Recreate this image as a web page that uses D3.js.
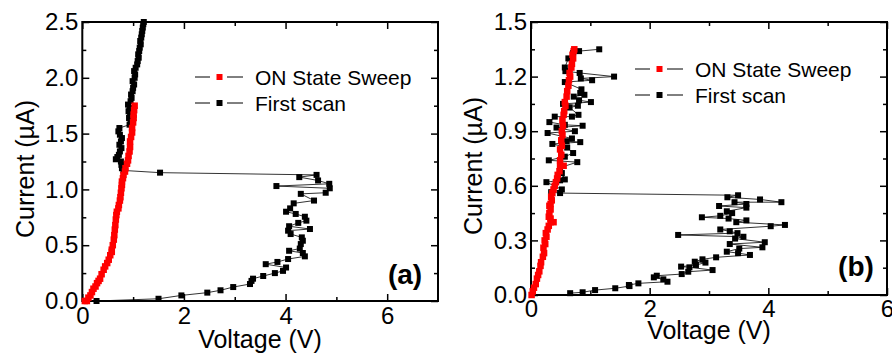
<!DOCTYPE html>
<html>
<head>
<meta charset="utf-8">
<script src="https://cdn.jsdelivr.net/npm/d3@7"></script>
<style>
  body { margin: 0; background: #fff; }
  svg { display: block; }
  text { font-family: "Liberation Sans", Arial, sans-serif; fill: #000; }
</style>
</head>
<body>
<div id="chart"></div>
<script>
// ---- data: [voltage V, current uA] ----
const seriesNames = ["ON State Sweep", "First scan"];

const onSweepA = [
  [0.05,0.00],[0.09,0.00],[0.12,0.03],[0.16,0.05],[0.19,0.08],[0.22,0.11],[0.26,0.13],[0.29,0.16],
  [0.32,0.18],[0.35,0.20],[0.38,0.24],[0.42,0.28],[0.45,0.31],[0.49,0.34],[0.52,0.37],[0.55,0.41],
  [0.58,0.44],[0.58,0.46],[0.60,0.50],[0.62,0.55],[0.63,0.59],[0.64,0.64],[0.65,0.68],[0.66,0.73],
  [0.67,0.77],[0.68,0.80],[0.71,0.83],[0.72,0.86],[0.74,0.90],[0.75,0.93],[0.76,0.97],[0.77,1.01],
  [0.78,1.04],[0.78,1.07],[0.80,1.10],[0.81,1.13],[0.84,1.16],[0.85,1.19],[0.88,1.23],[0.90,1.26],
  [0.91,1.30],[0.93,1.34],[0.94,1.38],[0.94,1.43],[0.96,1.47],[0.98,1.51],[0.98,1.55],[1.00,1.60],
  [1.01,1.64],[1.01,1.67],[1.02,1.71],[1.03,1.75]
];

const firstScanA = [
  [0.28,0.00],[1.50,0.02],[1.95,0.05],[2.46,0.075],[2.72,0.096],[2.97,0.125],[3.30,0.152],[3.33,0.18],
  [3.36,0.20],[3.56,0.224],[3.79,0.25],[3.95,0.27],[4.01,0.30],[3.61,0.33],[3.84,0.35],[4.05,0.376],
  [4.38,0.40],[4.34,0.43],[4.07,0.45],[4.28,0.47],[4.30,0.51],[4.34,0.54],[4.32,0.57],[4.10,0.60],
  [4.05,0.63],[4.48,0.645],[4.07,0.67],[4.25,0.70],[4.41,0.72],[4.38,0.755],[4.20,0.78],[4.01,0.80],
  [4.09,0.83],[4.16,0.875],[4.56,0.90],[4.30,0.96],[4.79,0.97],[4.87,1.01],[3.82,1.03],[4.86,1.05],
  [4.64,1.08],[4.27,1.11],[4.61,1.13],[1.53,1.15],[0.81,1.17],[0.78,1.19],[0.77,1.22],[0.76,1.25],
  [0.66,1.27],[0.69,1.29],[0.72,1.31],[0.74,1.34],[0.77,1.37],[0.73,1.40],[0.76,1.43],[0.78,1.46],
  [0.74,1.49],[0.71,1.52],[0.73,1.55],[0.93,1.58],[0.95,1.61],[0.92,1.64],[0.94,1.67],[0.91,1.70],
  [0.93,1.73],[0.90,1.76],[0.95,1.79],[0.97,1.82],[0.96,1.85],[0.99,1.88],[1.00,1.91],[1.02,1.94],
  [0.99,1.97],[1.03,2.00],[1.04,2.03],[1.02,2.06],[1.05,2.09],[1.08,2.12],[1.09,2.15],[1.11,2.18],
  [1.10,2.21],[1.12,2.24],[1.13,2.27],[1.15,2.30],[1.14,2.33],[1.16,2.36],[1.17,2.39],[1.18,2.42],
  [1.19,2.45],[1.20,2.48],[1.21,2.50]
];

const onSweepB = [
  [0.01,0.00],[0.03,0.02],[0.05,0.04],[0.08,0.06],[0.10,0.09],[0.12,0.11],[0.14,0.13],[0.16,0.16],
  [0.17,0.18],[0.20,0.21],[0.22,0.23],[0.21,0.26],[0.24,0.28],[0.23,0.30],[0.26,0.32],[0.25,0.34],
  [0.28,0.36],[0.30,0.38],[0.33,0.40],[0.38,0.40],[0.33,0.42],[0.30,0.43],[0.31,0.45],[0.33,0.47],
  [0.31,0.49],[0.33,0.50],[0.35,0.52],[0.34,0.54],[0.36,0.56],[0.38,0.58],[0.40,0.60],[0.42,0.62],
  [0.44,0.64],[0.45,0.66],[0.48,0.68],[0.49,0.71],[0.55,0.71],[0.49,0.74],[0.51,0.77],[0.49,0.80],
  [0.52,0.82],[0.51,0.85],[0.53,0.88],[0.52,0.90],[0.54,0.93],[0.53,0.96],[0.55,0.99],[0.56,1.01],
  [0.58,1.04],[0.57,1.06],[0.60,1.09],[0.61,1.12],[0.63,1.15],[0.64,1.18],[0.66,1.20],[0.65,1.22],
  [0.68,1.25],[0.69,1.27],[0.71,1.30],[0.70,1.32],[0.72,1.34],[0.73,1.35]
];

const firstScanB = [
  [0.66,0.01],[0.87,0.015],[1.08,0.027],[1.42,0.037],[1.66,0.049],[1.65,0.055],[1.81,0.064],[2.30,0.073],
  [2.23,0.086],[2.07,0.097],[2.12,0.106],[2.54,0.115],[2.65,0.128],[3.06,0.137],[2.67,0.152],[2.53,0.156],
  [2.78,0.165],[2.94,0.178],[2.76,0.183],[2.89,0.196],[3.12,0.207],[3.69,0.22],[3.49,0.23],[3.30,0.238],
  [3.51,0.255],[3.90,0.262],[3.35,0.28],[3.94,0.29],[3.44,0.31],[3.58,0.32],[2.48,0.33],[3.48,0.34],
  [3.35,0.35],[3.19,0.36],[4.04,0.378],[4.28,0.385],[3.46,0.40],[3.63,0.41],[3.33,0.42],[2.88,0.427],
  [3.19,0.435],[3.39,0.45],[3.30,0.46],[3.63,0.48],[3.17,0.489],[3.63,0.50],[3.43,0.51],[4.22,0.51],
  [3.86,0.525],[3.31,0.537],[3.49,0.548],[0.49,0.56],[0.34,0.565],[0.52,0.58],[0.26,0.62],[0.49,0.63],
  [0.57,0.635],[0.52,0.67],[0.49,0.70],[0.78,0.73],[0.30,0.74],[0.57,0.76],[0.71,0.78],[0.61,0.81],
  [0.36,0.83],[0.83,0.84],[0.60,0.845],[0.69,0.86],[0.28,0.89],[0.74,0.90],[0.43,0.92],[0.87,0.93],
  [0.57,0.935],[0.31,0.95],[0.40,0.98],[0.69,0.98],[0.80,0.99],[0.65,1.03],[0.79,1.04],[0.54,1.05],
  [1.01,1.06],[0.81,1.07],[0.72,1.09],[0.90,1.10],[0.83,1.11],[0.85,1.13],[0.57,1.17],[1.03,1.18],
  [0.84,1.19],[1.40,1.20],[0.82,1.22],[0.58,1.23],[0.57,1.25],[0.63,1.30],[0.71,1.33],[0.81,1.34],
  [1.15,1.35]
];

const xTicksA = [0, 2, 4, 6], xMinorA = [1, 3, 5];
const yTicksA = [0, 0.5, 1.0, 1.5, 2.0, 2.5], yMinorA = [0.25, 0.75, 1.25, 1.75, 2.25];
const xTicksB = [0, 2, 4, 6], xMinorB = [1, 3, 5];
const yTicksB = [0, 0.3, 0.6, 0.9, 1.2, 1.5], yMinorB = [0.15, 0.45, 0.75, 1.05, 1.35];

// ---- layout ----
const W = 892, H = 354;
const panels = [
  { tag: "(a)", on: onSweepA, first: firstScanA, xMax: 7, yMax: 2.5,
    xTicks: xTicksA, xMinor: xMinorA, yTicks: yTicksA, yMinor: yMinorA,
    left: 82.3, right: 438, top: 22, bottom: 301,
    yTitleX: 25, yTitleY: 169, xTitleX: 260, xTitleY: 348, tickLabelY: 6,
    legX: 195, legY: 77, tagX: 405, tagY: 284 },
  { tag: "(b)", on: onSweepB, first: firstScanB, xMax: 6, yMax: 1.5,
    xTicks: xTicksB, xMinor: xMinorB, yTicks: yTicksB, yMinor: yMinorB,
    left: 531, right: 887, top: 22, bottom: 295,
    yTitleX: 473, yTitleY: 166, xTitleX: 709, xTitleY: 339, tickLabelY: 5,
    legX: 635, legY: 69, tagX: 856, tagY: 276 }
];

const svg = d3.select("#chart").append("svg")
  .attr("width", W).attr("height", H);

panels.forEach(p => {
  const x = d3.scaleLinear().domain([0, p.xMax]).range([p.left, p.right]);
  const y = d3.scaleLinear().domain([0, p.yMax]).range([p.bottom, p.top]);
  const g = svg.append("g");

  const styleAxis = sel => {
    sel.select(".domain").remove();
    sel.selectAll(".tick line").attr("stroke", "#000").attr("stroke-width", 1.5);
    sel.selectAll(".tick text").attr("font-size", 24).attr("fill", "#000")
      .attr("font-family", "Liberation Sans, Arial, sans-serif");
  };

  // minor ticks, all four sides, pointing inward
  g.append("g").attr("transform", `translate(0,${p.bottom})`)
    .call(d3.axisBottom(x).tickValues(p.xMinor).tickSize(-4).tickFormat("")).call(styleAxis);
  g.append("g").attr("transform", `translate(0,${p.top})`)
    .call(d3.axisTop(x).tickValues(p.xMinor).tickSize(-4).tickFormat("")).call(styleAxis);
  g.append("g").attr("transform", `translate(${p.left},0)`)
    .call(d3.axisLeft(y).tickValues(p.yMinor).tickSize(-4).tickFormat("")).call(styleAxis);
  g.append("g").attr("transform", `translate(${p.right},0)`)
    .call(d3.axisRight(y).tickValues(p.yMinor).tickSize(-4).tickFormat("")).call(styleAxis);

  // major ticks with labels
  g.append("g").attr("transform", `translate(0,${p.bottom})`)
    .call(d3.axisBottom(x).tickValues(p.xTicks).tickSize(-7).tickPadding(p.tickLabelY).tickFormat(d3.format("d")))
    .call(styleAxis);
  g.append("g").attr("transform", `translate(0,${p.top})`)
    .call(d3.axisTop(x).tickValues(p.xTicks).tickSize(-7).tickFormat("")).call(styleAxis);
  g.append("g").attr("transform", `translate(${p.left},0)`)
    .call(d3.axisLeft(y).tickValues(p.yTicks).tickSize(-7).tickPadding(4).tickFormat(d3.format(".1f")))
    .call(styleAxis);
  g.append("g").attr("transform", `translate(${p.right},0)`)
    .call(d3.axisRight(y).tickValues(p.yTicks).tickSize(-7).tickFormat("")).call(styleAxis);

  // frame
  g.append("rect")
    .attr("x", p.left).attr("y", p.top)
    .attr("width", p.right - p.left).attr("height", p.bottom - p.top)
    .attr("fill", "none").attr("stroke", "#000").attr("stroke-width", 2);

  const line = d3.line().x(d => x(d[0])).y(d => y(d[1]));
  const ms = 6, msRed = 6.5;

  // first scan (black) under the red sweep
  g.append("path").datum(p.first).attr("d", line)
    .attr("fill", "none").attr("stroke", "#000").attr("stroke-width", 0.8);
  g.selectAll(".fs").data(p.first).enter().append("rect")
    .attr("x", d => x(d[0]) - ms / 2).attr("y", d => y(d[1]) - ms / 2)
    .attr("width", ms).attr("height", ms).attr("fill", "#000");

  g.append("path").datum(p.on).attr("d", line)
    .attr("fill", "none").attr("stroke", "#000").attr("stroke-width", 0.8);
  g.selectAll(".on").data(p.on).enter().append("rect")
    .attr("x", d => x(d[0]) - msRed / 2).attr("y", d => y(d[1]) - msRed / 2)
    .attr("width", msRed).attr("height", msRed).attr("fill", "#ff0000");

  // legend
  const legColors = ["#ff0000", "#000"];
  seriesNames.forEach((name, i) => {
    const ly = p.legY + i * 26;
    const lg = g.append("g");
    lg.append("line").attr("x1", p.legX).attr("x2", p.legX + 15).attr("y1", ly).attr("y2", ly)
      .attr("stroke", "#000").attr("stroke-width", 1);
    lg.append("line").attr("x1", p.legX + 32).attr("x2", p.legX + 48).attr("y1", ly).attr("y2", ly)
      .attr("stroke", "#000").attr("stroke-width", 1);
    lg.append("rect").attr("x", p.legX + 24.5 - ms / 2).attr("y", ly - ms / 2)
      .attr("width", ms).attr("height", ms).attr("fill", legColors[i]);
    lg.append("text").attr("x", p.legX + 60).attr("y", ly)
      .attr("dominant-baseline", "central").attr("font-size", 21).text(name);
  });

  // axis titles
  g.append("text")
    .attr("transform", `translate(${p.yTitleX},${p.yTitleY}) rotate(-90)`)
    .attr("text-anchor", "middle").attr("dominant-baseline", "central")
    .attr("font-size", 25).text("Current (\u00b5A)");
  g.append("text")
    .attr("x", p.xTitleX).attr("y", p.xTitleY)
    .attr("text-anchor", "middle").attr("font-size", 25).text("Voltage (V)");

  // panel tag
  g.append("text")
    .attr("x", p.tagX).attr("y", p.tagY)
    .attr("text-anchor", "middle").attr("font-size", 28).attr("font-weight", "bold")
    .text(p.tag);
});
</script>
</body>
</html>
